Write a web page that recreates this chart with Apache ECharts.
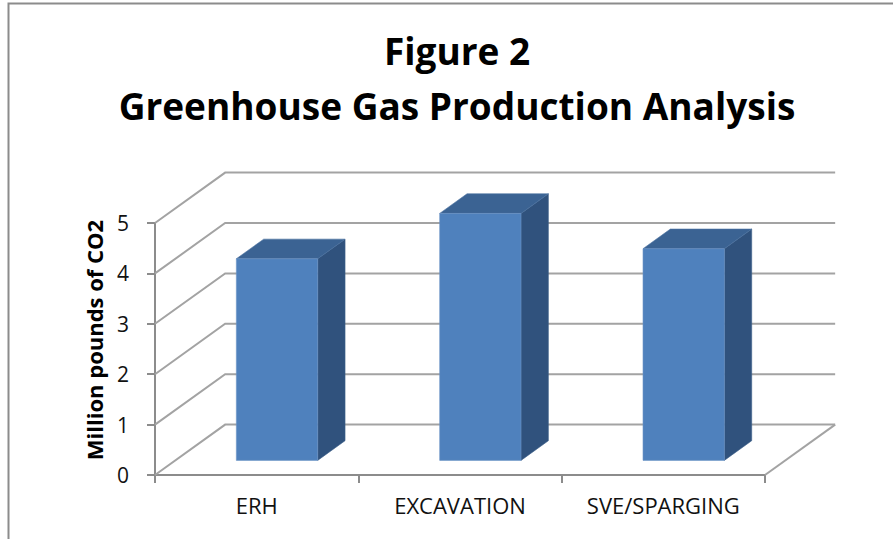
<!DOCTYPE html>
<html>
<head>
<meta charset="utf-8">
<script src="https://cdn.jsdelivr.net/npm/echarts@6/dist/echarts.min.js"></script>
<style>
  html, body { margin: 0; padding: 0; background: #ffffff; }
  #chart { width: 893px; height: 539px; }
</style>
</head>
<body>
<div id="chart"></div>
<script>
// ---- data ----
var categories = ['ERH', 'EXCAVATION', 'SVE/SPARGING'];
var values = [4.0, 4.9, 4.2];
var yMin = 0, yMax = 5, yStep = 1;
var titleLines = ['Figure 2', 'Greenhouse Gas Production Analysis'];
var yAxisName = 'Million pounds of CO2';

// ---- style constants ----
var FONT = '"Open Sans", Lato, sans-serif';
var DEPTH_X = 0.345;     // depth shift as fraction of category width
var DEPTH_Y = 1.0;       // depth shift in value units (upwards)
var BAR_FRONT = 0.29;    // bar front plane, fraction of depth
var BAR_DEPTH = 0.39;    // bar depth, fraction of depth
var BAR_WIDTH = 0.40;    // bar width, fraction of category width
var GRID_COLOR = '#a3a3a3';
var AXIS_COLOR = '#8c8c8c';
var FRONT = '#4f81bd', SIDE = '#30527d', TOP = '#3b6393';

var gridTicks = [];
for (var t = yMin; t <= yMax + 1e-9; t += yStep) gridTicks.push(t);

var chart = echarts.init(document.getElementById('chart'), null, { renderer: 'svg' });

function wallsRender(params, api) {
  var cs = params.coordSys;
  var catW = cs.width / categories.length;
  var dx = DEPTH_X * catW;
  var unit = api.size([0, 1])[1];
  var dy = -DEPTH_Y * unit;
  var left = cs.x, right = cs.x + cs.width;
  var children = [];
  gridTicks.forEach(function (v) {
    var y = api.coord([0, v])[1];
    children.push({
      type: 'polyline',
      shape: { points: [[left, y], [left + dx, y + dy], [right + dx, y + dy]] },
      style: { stroke: GRID_COLOR, lineWidth: 2, fill: null }
    });
  });
  var y0 = api.coord([0, yMin])[1];
  children.push({
    type: 'line',
    shape: { x1: right, y1: y0, x2: right + dx, y2: y0 + dy },
    style: { stroke: GRID_COLOR, lineWidth: 2 }
  });
  return { type: 'group', children: children };
}

function barRender(params, api) {
  var idx = api.value(0);
  var val = api.value(1);
  var catW = api.size([1, 0])[0];
  var unit = api.size([0, 1])[1];
  var dxTot = DEPTH_X * catW, dyTot = -DEPTH_Y * unit;
  var fx = BAR_FRONT * dxTot, fy = BAR_FRONT * dyTot;
  var bx = BAR_DEPTH * dxTot, by = BAR_DEPTH * dyTot;
  var c = api.coord([idx, val]);
  var b = api.coord([idx, yMin]);
  var w = BAR_WIDTH * catW;
  var x0 = c[0] - w / 2 + fx, x1 = c[0] + w / 2 + fx;
  var yt = c[1] + fy, yb = b[1] + fy;
  return {
    type: 'group',
    children: [
      { type: 'polygon', shape: { points: [[x1, yt], [x1 + bx, yt + by], [x1 + bx, yb + by], [x1, yb]] },
        style: { fill: SIDE, stroke: '#3d5f8a', lineWidth: 0.6 } },
      { type: 'polygon', shape: { points: [[x0, yt], [x0 + bx, yt + by], [x1 + bx, yt + by], [x1, yt]] },
        style: { fill: TOP, stroke: '#4a71a0', lineWidth: 0.6 } },
      { type: 'rect', shape: { x: x0, y: yt, width: w, height: yb - yt },
        style: { fill: FRONT, stroke: '#6c93c6', lineWidth: 0.6 } }
    ]
  };
}

var titleStyle = { fontSize: 37, fontWeight: 'bold', fontFamily: FONT, fill: '#000', align: 'center', verticalAlign: 'middle' };

var option = {
  backgroundColor: '#ffffff',
  animation: false,
  grid: { left: 155, right: 128, top: 223, bottom: 64, containLabel: false },
  xAxis: {
    type: 'category',
    data: categories,
    axisLine: { show: true, lineStyle: { color: AXIS_COLOR, width: 2 } },
    axisTick: { show: true, length: 8, lineStyle: { color: AXIS_COLOR, width: 2 } },
    axisLabel: { color: '#111', fontSize: 22, fontFamily: FONT, margin: 19 },
    splitLine: { show: false }
  },
  yAxis: {
    type: 'value',
    min: yMin, max: yMax, interval: yStep,
    name: yAxisName,
    nameLocation: 'middle',
    nameRotate: 90,
    nameGap: 50,
    nameTextStyle: { color: '#000', fontSize: 22, fontWeight: 'bold', fontFamily: FONT, padding: [0, 0, 0, 18] },
    axisLine: { show: true, lineStyle: { color: AXIS_COLOR, width: 2 } },
    axisTick: { show: true, length: 8, lineStyle: { color: AXIS_COLOR, width: 2 } },
    axisLabel: { color: '#111', fontSize: 21, fontFamily: FONT, margin: 26 },
    splitLine: { show: false }
  },
  graphic: [
    { type: 'text', x: 457, y: 50, z: 10, style: Object.assign({ text: titleLines[0] }, titleStyle) },
    { type: 'text', x: 457, y: 105, z: 10, style: Object.assign({ text: titleLines[1] }, titleStyle) },
    { type: 'polyline', z: 10, silent: true,
      shape: { points: [[8.5, 539], [8.5, 3.5], [893, 3.5]] },
      style: { stroke: '#8c8c8c', lineWidth: 2, fill: null } }
  ],
  series: [
    { type: 'custom', name: 'walls', renderItem: wallsRender, data: [[0, 0]], z: 1, silent: true },
    { type: 'custom', name: 'Million pounds of CO2', renderItem: barRender,
      data: values.map(function (v, i) { return [i, v]; }), z: 2,
      encode: { x: 0, y: 1 } }
  ]
};
chart.setOption(option);
</script>
</body>
</html>
